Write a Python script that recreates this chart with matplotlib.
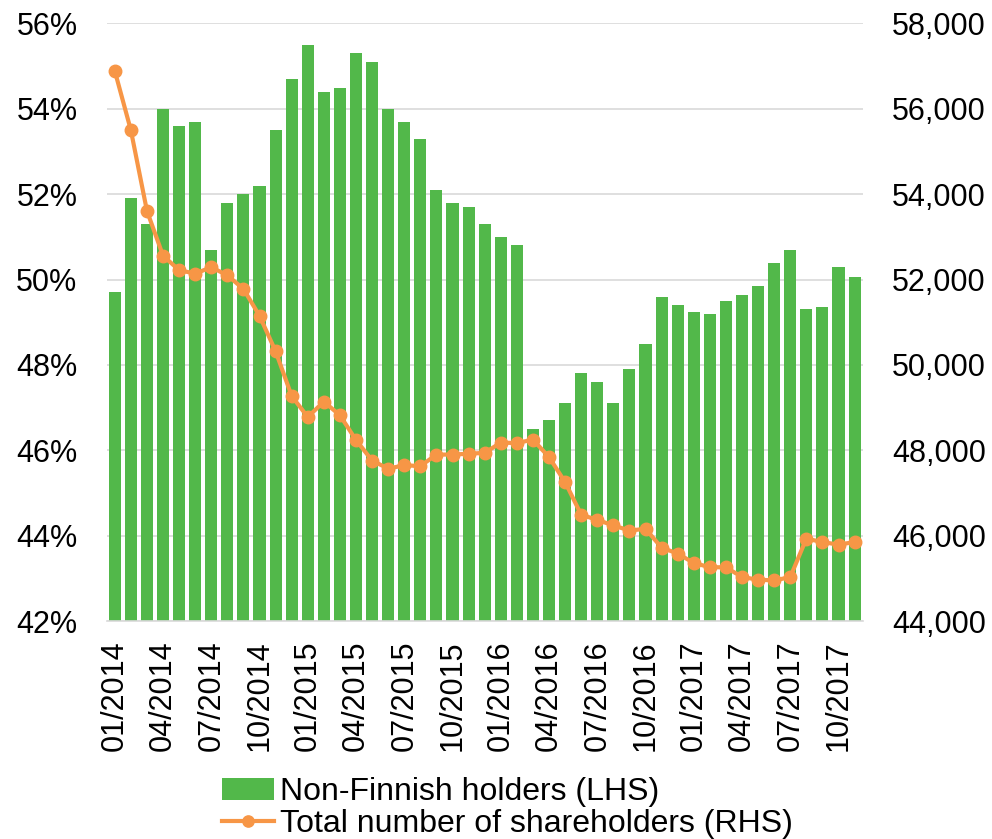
import matplotlib.pyplot as plt
from matplotlib.ticker import FuncFormatter

plt.rcParams["font.family"] = ["Liberation Sans", "DejaVu Sans"]

# monthly observations, Jan 2014 - Nov 2017
months = [f"{m:02d}/{y}" for y in range(2014, 2018) for m in range(1, 13)][:47]

non_finnish_pct = [
    49.7, 51.9, 51.3, 54.0, 53.6, 53.7, 50.7, 51.8, 52.0, 52.2, 53.5, 54.7,
    55.5, 54.4, 54.5, 55.3, 55.1, 54.0, 53.7, 53.3, 52.1, 51.8, 51.7, 51.3,
    51.0, 50.8, 46.5, 46.7, 47.1, 47.8, 47.6, 47.1, 47.9, 48.5, 49.6, 49.4,
    49.25, 49.2, 49.5, 49.65, 49.85, 50.4, 50.7, 49.3, 49.35, 50.3, 50.07,
]

shareholders = [
    56890, 55500, 53610, 52560, 52220, 52140, 52290, 52100, 51780, 51150, 50320, 49270,
    48780, 49140, 48820, 48240, 47760, 47570, 47650, 47630, 47900, 47900, 47920, 47940,
    48180, 48170, 48250, 47840, 47255, 46490, 46370, 46240, 46120, 46160, 45720, 45580,
    45360, 45260, 45260, 45030, 44970, 44950, 45030, 45930, 45850, 45790, 45850,
]

green = "#52b84a"
orange = "#f79646"

fig = plt.figure(figsize=(9.92, 8.39), dpi=100)
ax = fig.add_axes([0.1076, 0.2598, 0.762, 0.7122])
x = list(range(len(months)))

bars = ax.bar(x, non_finnish_pct, width=0.75, color=green, zorder=2,
              label="Non-Finnish holders (LHS)")
ax.set_ylim(42, 56)
ax.set_yticks(range(42, 57, 2))
ax.yaxis.set_major_formatter(FuncFormatter(lambda v, p: f"{v:.0f}%"))
ax.set_xlim(-0.5, len(months) - 0.5)
ax.set_xticks(x[::3])
ax.set_xticklabels(months[::3], rotation=90)
ax.grid(axis="y", color="#d9d9d9", linewidth=1.2, zorder=0)
ax.set_axisbelow(True)
for s in ["top", "left", "right"]:
    ax.spines[s].set_visible(False)
ax.spines["bottom"].set_color("#d9d9d9")
ax.spines["bottom"].set_linewidth(1.2)
ax.tick_params(axis="y", length=0, pad=21, labelsize=22)
ax.tick_params(axis="x", length=0, pad=14, labelsize=22)

ax2 = ax.twinx()
line, = ax2.plot(x, shareholders, color=orange, linewidth=3, marker="o",
                 markersize=9, zorder=3, label="Total number of shareholders (RHS)")
ax2.set_ylim(44000, 58000)
ax2.set_yticks(range(44000, 58001, 2000))
ax2.yaxis.set_major_formatter(FuncFormatter(lambda v, p: f"{v:,.0f}"))
for s in ax2.spines.values():
    s.set_visible(False)
ax2.tick_params(axis="y", length=0, pad=21, labelsize=22)

fig.legend([bars, line], [bars.get_label(), line.get_label()],
           loc="upper left", bbox_to_anchor=(0.2235, 0.074), frameon=False,
           fontsize=23, handlelength=1.63, handletextpad=0.19,
           labelspacing=0.07, borderpad=0, borderaxespad=0, markerscale=0.9)

fig.savefig("out.png", dpi=100)
